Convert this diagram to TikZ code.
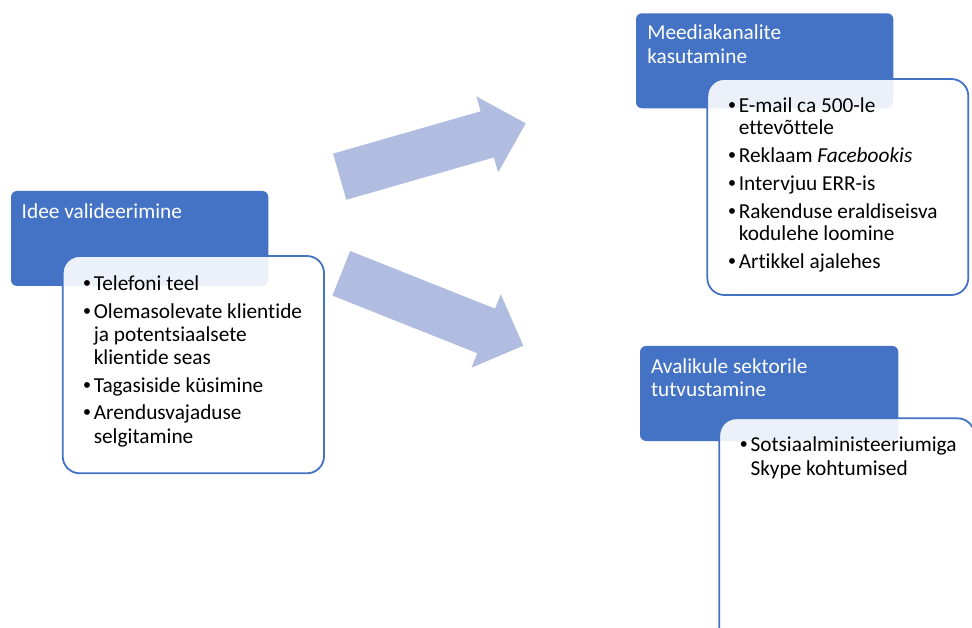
\documentclass[tikz,border=0pt]{standalone}
\usepackage{fontspec}
\setmainfont[Ligatures=NoCommon]{Carlito}
\newfontfamily\bltfont{Liberation Sans}
\definecolor{hblue}{HTML}{4472C4}
\definecolor{arrowc}{RGB}{176,189,224}
\newcommand{\myblt}{\makebox[10.5pt][l]{\bltfont •}}
\begin{document}
\begin{tikzpicture}[x=1pt,y=-1pt,
 hdr/.style={fill=hblue, rounded corners=6pt},
 card/.style={draw=hblue, line width=1.8pt, fill=white, fill opacity=0.9, rounded corners=17pt},
 txt/.style={anchor=base west, inner sep=0pt, outer sep=0pt, font=\fontsize{21.3}{23}\selectfont},
 htxt/.style={txt, text=white},
 btxt/.style={txt, text=black},
 barrow/.style={fill=arrowc}]
\useasboundingbox (0,0) rectangle (972,628);
\clip (0,0) rectangle (972,628);
% block arrows
\begin{scope}[shift={(339.7,176.7)}, rotate=16]
\fill[barrow] (0,-24) -- (153.5,-24) -- (153.5,-39.5) -- (193.5,0) -- (153.5,39.5) -- (153.5,24) -- (0,24) -- cycle;
\end{scope}
\begin{scope}[shift={(341.3,273.3)}, rotate=-21.7]
\fill[barrow] (0,-24) -- (155.9,-24) -- (155.9,-39.5) -- (195.9,0) -- (155.9,39.5) -- (155.9,24) -- (0,24) -- cycle;
\end{scope}
% group 1
\path[hdr] (11,191) rectangle (268.3,286);
\path[card] (62.7,256) rectangle (324,473.3);
\node[htxt] (h1) at (21.7,218.3) {Idee valideerimine};
\node[btxt] (a1) at (83.3,290.7) {\myblt Telefoni teel};
\node[btxt] (a2) at (83.3,318.3) {\myblt Olemasolevate klientide};
\node[btxt] (a2b) at (93.8,341.6) {ja potentsiaalsete};
\node[btxt] (a2c) at (93.8,364.3) {klientide seas};
\node[btxt] (a3) at (83.3,392.3) {\myblt Tagasiside küsimine};
\node[btxt] (a4) at (83.3,419.3) {\myblt Arendusvajaduse};
\node[btxt] (a4b) at (93.8,443.3) {selgitamine};
% group 2
\path[hdr] (636,13.3) rectangle (893.3,108.3);
\path[card] (707.3,79) rectangle (968.3,295);
\node[htxt] (h2) at (647.3,40) {Meediakanalite};
\node[htxt] (h2b) at (647.3,64) {kasutamine};
\node[btxt] (b1) at (728.3,112.7) {\myblt E-mail ca 500-le};
\node[btxt] (b1b) at (738.8,135) {ettevõttele};
\node[btxt] (b2) at (728.3,162.7) {\myblt Reklaam \textit{Facebookis}};
\node[btxt] (b3) at (728.3,190.7) {\myblt Intervjuu ERR-is};
\node[btxt] (b4) at (728.3,218.3) {\myblt Rakenduse eraldiseisva};
\node[btxt] (b4b) at (738.8,240.7) {kodulehe loomine};
\node[btxt] (b5) at (728.3,268.3) {\myblt Artikkel ajalehes};
% group 3
\path[hdr] (640,346) rectangle (898.3,441);
\path[card] (719.3,418.3) rectangle (974.5,660);
\node[htxt] (h3) at (651,373.3) {Avalikule sektorile};
\node[htxt] (h3b) at (651,396.7) {tutvustamine};
\node[btxt] (c1) at (740,451.7) {\myblt Sotsiaalministeeriumiga};
\node[btxt] (c1b) at (750.5,475) {Skype kohtumised};
\end{tikzpicture}
\end{document}
